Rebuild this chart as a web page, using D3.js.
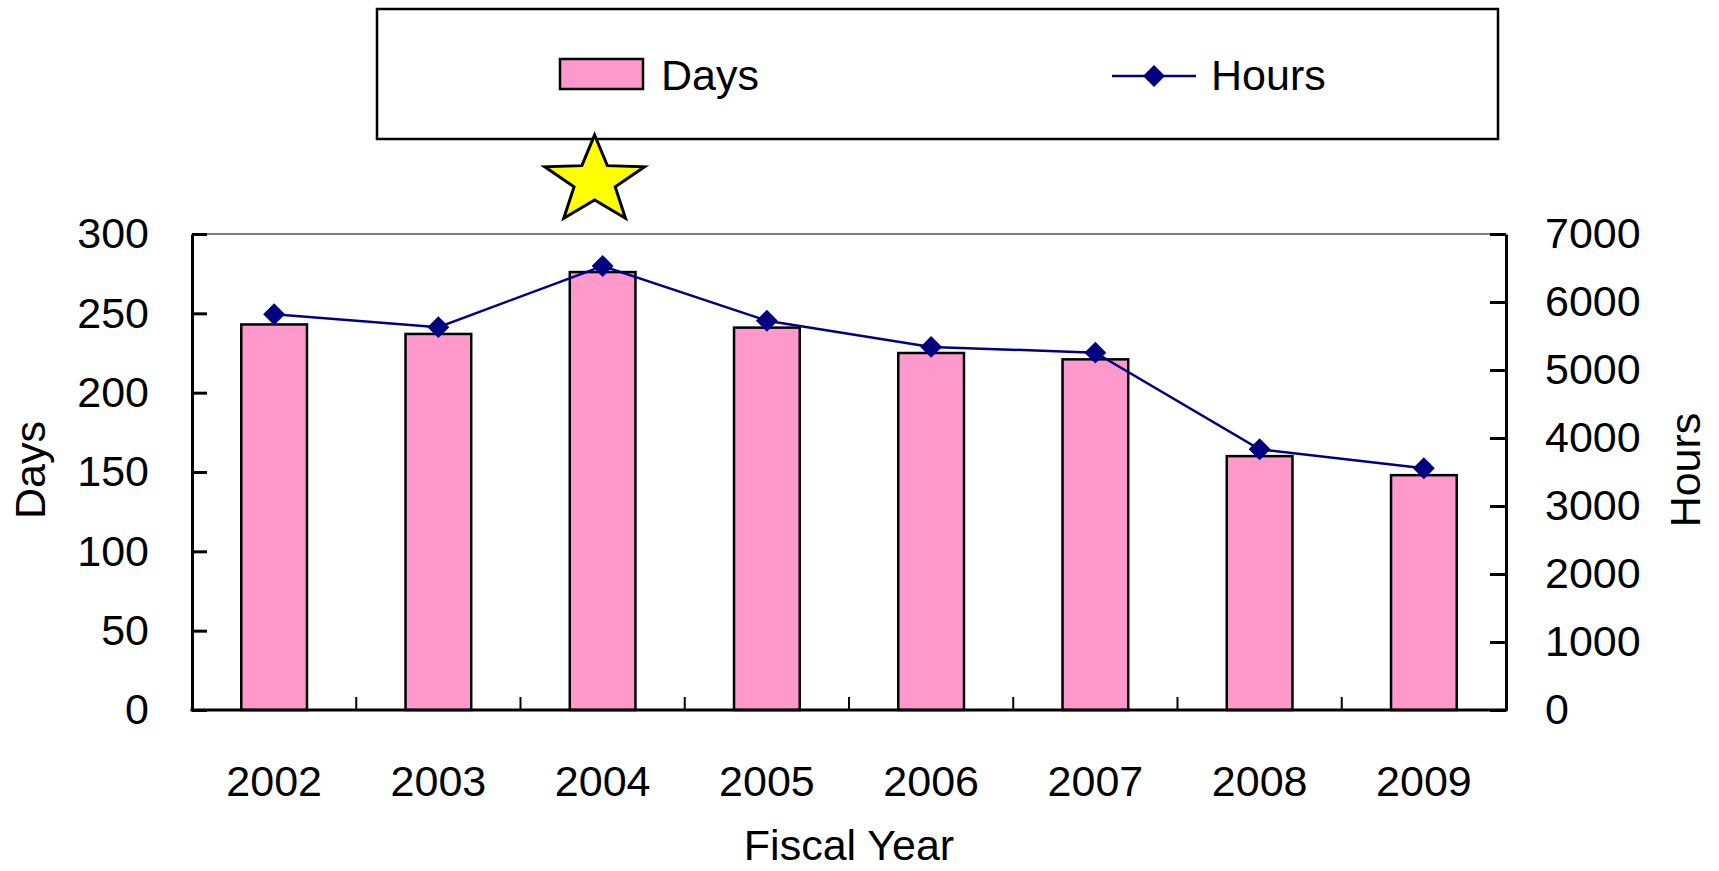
<!DOCTYPE html>
<html>
<head>
<meta charset="utf-8">
<script src="https://cdn.jsdelivr.net/npm/d3@7"></script>
<style>
  body { margin: 0; background: #fff; }
  text { font-family: "Liberation Sans", Arial, sans-serif; fill: #000; }
</style>
</head>
<body>
<svg id="chart" width="1719" height="871"></svg>
<script>
// Fiscal-year activity: days (bars, left axis) and hours (line, right axis)
const years = ["2002", "2003", "2004", "2005", "2006", "2007", "2008", "2009"];
const days = [243, 237, 276, 241, 225, 221, 160, 148];
const hours = [5820, 5630, 6530, 5725, 5340, 5255, 3835, 3555];
const dayTicks = [0, 50, 100, 150, 200, 250, 300];
const hourTicks = [0, 1000, 2000, 3000, 4000, 5000, 6000, 7000];
const highlightYear = "2004";

const svg = d3.select("#chart");
const plot = { left: 192, right: 1506, top: 234, bottom: 710 };
const FONT = 43;
const PINK = "#ff99cc";
const NAVY = "#000080";

const x = d3.scaleBand().domain(years).range([plot.left, plot.right])
  .paddingInner(0.6).paddingOuter(0.3);
const yDays = d3.scaleLinear().domain([0, 300]).range([plot.bottom, plot.top]);
const yHours = d3.scaleLinear().domain([0, 7000]).range([plot.bottom, plot.top]);
const cx = d => x(d) + x.bandwidth() / 2;

// plot area top border
svg.append("line")
  .attr("x1", plot.left).attr("x2", plot.right)
  .attr("y1", plot.top).attr("y2", plot.top)
  .attr("stroke", "#808080").attr("stroke-width", 2);

// bars
svg.append("g").selectAll("rect")
  .data(years.map((yr, i) => ({ yr, v: days[i] })))
  .join("rect")
  .attr("x", d => x(d.yr))
  .attr("y", d => yDays(d.v))
  .attr("width", x.bandwidth())
  .attr("height", d => yDays(0) - yDays(d.v))
  .attr("fill", PINK)
  .attr("stroke", "#000")
  .attr("stroke-width", 2.5);

// hours line
const pts = years.map((yr, i) => ({ yr, v: hours[i] }));
svg.append("path")
  .datum(pts)
  .attr("fill", "none")
  .attr("stroke", NAVY)
  .attr("stroke-width", 2.5)
  .attr("d", d3.line().x(d => cx(d.yr)).y(d => yHours(d.v)));

const diamond = d3.symbol().type(d3.symbolSquare).size(240);
svg.append("g").selectAll("path")
  .data(pts)
  .join("path")
  .attr("d", diamond)
  .attr("fill", NAVY)
  .attr("transform", d => `translate(${cx(d.yr)},${yHours(d.v)}) rotate(45)`);

// left axis (days)
const gL = svg.append("g")
  .attr("transform", `translate(${plot.left},0)`)
  .call(d3.axisLeft(yDays).tickValues(dayTicks).tickFormat(d3.format("d"))
    .tickSizeInner(-15).tickSizeOuter(0).tickPadding(43));
gL.select(".domain").attr("stroke", "#000").attr("stroke-width", 3);
gL.selectAll(".tick line").attr("stroke", "#000").attr("stroke-width", 3);
gL.selectAll(".tick text").attr("font-size", FONT).attr("font-family", null);

// right axis (hours)
const gR = svg.append("g")
  .attr("transform", `translate(${plot.right},0)`)
  .call(d3.axisRight(yHours).tickValues(hourTicks).tickFormat(d3.format("d"))
    .tickSizeInner(-16).tickSizeOuter(0).tickPadding(39));
gR.select(".domain").attr("stroke", "#000").attr("stroke-width", 3);
gR.selectAll(".tick line").attr("stroke", "#000").attr("stroke-width", 3);
gR.selectAll(".tick text").attr("font-size", FONT).attr("font-family", null);

// bottom axis: labels centered under bars, ticks at category boundaries
const gB = svg.append("g")
  .attr("transform", `translate(0,${plot.bottom})`)
  .call(d3.axisBottom(x).tickSize(0).tickPadding(55));
gB.select(".domain").remove();
gB.selectAll(".tick text").attr("font-size", FONT).attr("font-family", null);

const gap = (x.step() - x.bandwidth()) / 2;
const bounds = years.slice(1).map(yr => x(yr) - gap);
svg.append("g").selectAll("line")
  .data(bounds)
  .join("line")
  .attr("x1", d => d).attr("x2", d => d)
  .attr("y1", plot.bottom).attr("y2", plot.bottom - 13)
  .attr("stroke", "#000").attr("stroke-width", 2);
svg.append("line")
  .attr("x1", plot.left - 1.5).attr("x2", plot.right + 1.5)
  .attr("y1", plot.bottom).attr("y2", plot.bottom)
  .attr("stroke", "#000").attr("stroke-width", 3);

// axis titles
svg.append("text")
  .attr("transform", "translate(30,470) rotate(-90)")
  .attr("text-anchor", "middle").attr("dominant-baseline", "central")
  .attr("font-size", FONT).text("Days");
svg.append("text")
  .attr("transform", "translate(1685,470) rotate(-90)")
  .attr("text-anchor", "middle").attr("dominant-baseline", "central")
  .attr("font-size", FONT).text("Hours");
svg.append("text")
  .attr("x", (plot.left + plot.right) / 2).attr("y", 860)
  .attr("text-anchor", "middle")
  .attr("font-size", FONT).text("Fiscal Year");

// legend
const lg = svg.append("g");
lg.append("rect")
  .attr("x", 377).attr("y", 9).attr("width", 1121).attr("height", 130)
  .attr("fill", "#fff").attr("stroke", "#000").attr("stroke-width", 2.5);
lg.append("rect")
  .attr("x", 560).attr("y", 59).attr("width", 83).attr("height", 30)
  .attr("fill", PINK).attr("stroke", "#000").attr("stroke-width", 2.5);
lg.append("text").attr("x", 661).attr("y", 90).attr("font-size", FONT).text("Days");
lg.append("line")
  .attr("x1", 1112).attr("x2", 1196).attr("y1", 76).attr("y2", 76)
  .attr("stroke", NAVY).attr("stroke-width", 2.5);
lg.append("path")
  .attr("d", diamond)
  .attr("fill", NAVY)
  .attr("transform", "translate(1154,76) rotate(45)");
lg.append("text").attr("x", 1211).attr("y", 90).attr("font-size", FONT).text("Hours");

// star marking the peak year
const R = 46, r = 19;
const starPts = d3.range(10).map(i => {
  const a = -Math.PI / 2 + i * Math.PI / 5;
  const rad = i % 2 === 0 ? R : r;
  return [Math.cos(a) * rad * 1.14, Math.sin(a) * rad];
});
svg.append("path")
  .attr("d", "M" + starPts.map(p => p.join(",")).join("L") + "Z")
  .attr("transform", `translate(${cx(highlightYear) - 8},181)`)
  .attr("fill", "#ffff00")
  .attr("stroke", "#000")
  .attr("stroke-width", 3)
  .attr("stroke-linejoin", "miter");
</script>
</body>
</html>
